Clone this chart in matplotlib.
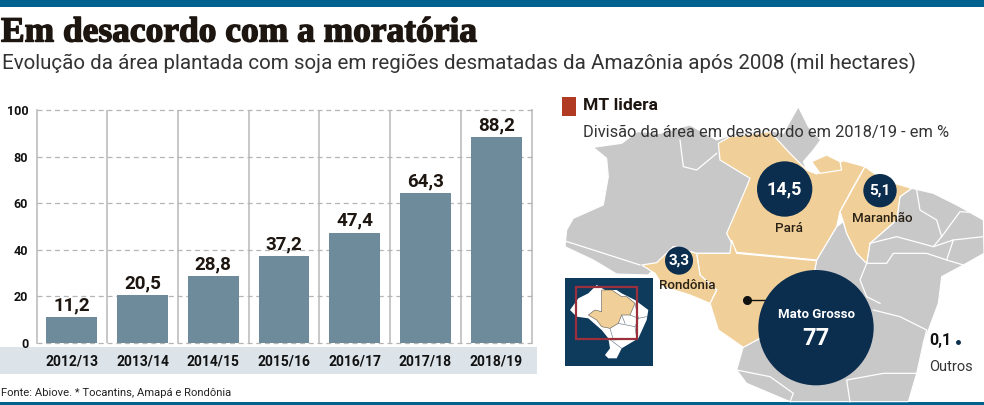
import matplotlib
matplotlib.use('Agg')
import matplotlib.pyplot as plt
import matplotlib.patheffects as pe
import numpy as np
from matplotlib.patches import Polygon, Circle, Rectangle

W, H = 984, 405

# bar chart data
safras = ['2012/13', '2013/14', '2014/15', '2015/16', '2016/17', '2017/18', '2018/19']
area = [11.2, 20.5, 28.8, 37.2, 47.4, 64.3, 88.2]
area_labels = ['11,2', '20,5', '28,8', '37,2', '47,4', '64,3', '88,2']
y_ticks = [0, 20, 40, 60, 80, 100]

# map bubbles
estados = ['Pará', 'Maranhão', 'Rondônia', 'Mato Grosso']
shares = ['14,5', '5,1', '3,3', '77']
bubble_xy = [(704, 297), (990, 302), (387, 512), (798, 713)]
bubble_r = [83, 50, 42, 173]

# map outlines, traced in 3x crop coordinates
gray_north = [(130, 172), (215, 160), (262, 125), (330, 130), (420, 105), (500, 150), (560, 130),
              (660, 122), (700, 130), (745, 50), (775, 110), (812, 150), (790, 180), (760, 215),
              (770, 240), (700, 480), (560, 490), (440, 490),
              (370, 470), (320, 525), (295, 555), (200, 552), (130, 510), (45, 470), (50, 420),
              (70, 385), (160, 345), (175, 260), (170, 205)]
gray_east = [(800, 510), (860, 410), (880, 395), (890, 430), (920, 490), (950, 520), (960, 460),
             (1040, 390), (1050, 320), (1085, 295), (1150, 310), (1220, 345), (1300, 390),
             (1302, 490), (1240, 525), (1175, 560), (1165, 640), (1120, 760), (1100, 850),
             (1075, 935), (720, 935), (590, 880), (560, 840), (580, 770), (630, 745), (790, 560)]
para = [(505, 160), (540, 140), (660, 125), (720, 190), (770, 240), (800, 252), (880, 212),
        (945, 230), (905, 300), (870, 365), (860, 410), (830, 460), (800, 510), (560, 487),
        (535, 440), (530, 430), (590, 290), (600, 265), (510, 210)]
marajo = [(785, 215), (830, 195), (870, 215), (875, 240), (810, 250)]
maranhao = [(945, 230), (1000, 270), (1085, 295), (1050, 320), (1040, 390), (960, 460), (950, 520),
            (920, 490), (890, 430), (880, 395), (870, 365)]
mato_grosso = [(440, 490), (540, 490), (545, 450), (560, 490), (800, 512), (790, 560), (700, 650),
               (630, 745), (580, 772), (505, 720), (480, 640), (500, 600), (450, 555)]
rondonia = [(275, 525), (320, 518), (370, 470), (440, 490), (450, 555), (500, 600), (480, 640),
            (420, 615), (340, 590), (315, 550)]
borders = [[(45, 453), (130, 480), (270, 525)],
           [(390, 150), (400, 230), (440, 240), (500, 190)],
           [(1100, 300), (1110, 360), (1160, 390), (1175, 440), (1150, 470), (1040, 440), (960, 460)],
           [(1175, 440), (1230, 365), (1300, 370)],
           [(1150, 470), (1210, 450), (1300, 440)],
           [(1210, 450), (1190, 510), (1240, 525)],
           [(950, 520), (1010, 520), (1030, 490), (1130, 490), (1190, 510)],
           [(950, 520), (930, 570), (950, 620), (990, 640)],
           [(970, 660), (1050, 680), (1130, 720), (1120, 760)],
           [(1100, 850), (1000, 850), (890, 870), (900, 935)],
           [(560, 840), (660, 860), (730, 910), (720, 935)]]

# inset outlines, traced in the crop of the inset
inset_brasil = [(45, 150), (70, 115), (100, 100), (125, 75), (150, 90), (185, 90), (200, 100),
                (240, 120), (280, 150), (275, 180), (250, 235), (200, 265), (185, 295), (160, 295),
                (150, 285), (165, 265), (160, 235), (140, 210), (100, 175), (65, 170)]
inset_tan = [(140, 90), (170, 90), (200, 110), (215, 110), (240, 130), (225, 165), (200, 165),
             (190, 190), (165, 205), (140, 200), (125, 180), (100, 165), (120, 150), (140, 155)]
inset_lines = [[(225, 165), (250, 175), (275, 170)], [(240, 130), (250, 175), (240, 200)],
               [(190, 190), (240, 200), (245, 235)], [(165, 205), (175, 240), (245, 235)],
               [(160, 235), (200, 265)], [(200, 165), (210, 190)]]


def crop1(pts):
    return [(550 + x / 3, 90 + y / 3) for x, y in pts]


def crop4(pts):
    return [(555 + x / 3, 260 + y / 3) for x, y in pts]


NAVY = '#0b2d4e'
TAN = '#f1cf98'
GRAY = '#c8c8c8'
INK = '#1d1510'
SANS = ['Roboto', 'DejaVu Sans']

fig = plt.figure(figsize=(W / 100, H / 100), dpi=100, facecolor='white')

# whole-figure axes in pixels, for the frame and the map
bg = fig.add_axes([0, 0, 1, 1])
bg.set_xlim(0, W)
bg.set_ylim(H, 0)
bg.axis('off')

bg.add_patch(Rectangle((0, 0), W, 7, color='#02628f', lw=0))
bg.add_patch(Rectangle((0, 402), W, 3, color='#02628f', lw=0))
bg.add_patch(Rectangle((0, 347), 537, 27, color='#dce4ea', lw=0))

title = bg.text(1, 33, 'Em desacordo com a moratória', family='Liberation Serif', weight='bold',
                fontsize=25.5, color=INK, va='center', ha='left')
title.set_path_effects([pe.withStroke(linewidth=1.0, foreground=INK)])
bg.text(2, 63, 'Evolução da área plantada com soja em regiões desmatadas da Amazônia após 2008 (mil hectares)',
        family=SANS, fontsize=14.8, color='#333333', va='center', ha='left')
bg.text(1, 393, 'Fonte: Abiove. * Tocantins, Amapá e Rondônia', family=SANS, fontsize=8.1,
        color='#222222', va='center', ha='left')

# map
for shape in [gray_north, gray_east]:
    bg.add_patch(Polygon(crop1(shape), facecolor=GRAY, edgecolor='white', lw=0.8, zorder=1))
for shape in [para, marajo, maranhao, mato_grosso, rondonia]:
    bg.add_patch(Polygon(crop1(shape), facecolor=TAN, edgecolor='white', lw=0.9, zorder=2))
for line in borders:
    xy = np.array(crop1(line))
    bg.plot(xy[:, 0], xy[:, 1], color='white', lw=0.9, zorder=2)

bg.add_patch(Rectangle((562, 97), 14, 19, color='#b03a22', lw=0, zorder=4))
bg.text(583, 106, 'MT lidera', family=SANS, weight='bold', fontsize=12.6, color=INK,
        va='center', zorder=5)
bg.text(583, 132, 'Divisão da área em desacordo em 2018/19 - em %', family=SANS, fontsize=11.8,
        color='#333333', va='center', zorder=5)

for xy, r in zip(bubble_xy, bubble_r):
    cx, cy = crop1([xy])[0]
    bg.add_patch(Circle((cx, cy), r / 3, color=NAVY, lw=0, zorder=5))

bubble_fs = [13, 11, 11]
for i in range(3):
    cx, cy = crop1([bubble_xy[i]])[0]
    bg.text(cx, cy, shares[i], family=SANS, weight='bold', fontsize=bubble_fs[i], color='white',
            ha='center', va='center', zorder=6)
cx, cy = crop1([bubble_xy[3]])[0]
bg.text(cx, cy - 13, estados[3], family=SANS, weight='bold', fontsize=9.5, color='white',
        ha='center', va='center', zorder=6)
bg.text(cx, cy + 11, shares[3], family=SANS, weight='bold', fontsize=17, color='white',
        ha='center', va='center', zorder=6)

label_xy = [(717, 414), (996, 384), (413, 586)]
for i in range(3):
    lx, ly = crop1([label_xy[i]])[0]
    bg.text(lx, ly, estados[i], family=SANS, weight='medium', fontsize=9.6, color='#2a2115',
            ha='center', va='center', zorder=6)

# leader line for Mato Grosso
bg.plot([747, 772], [300, 300], color='#111111', lw=1, zorder=4)
bg.plot([747], [300], 'o', color='#111111', ms=5.5, zorder=4)

bg.text(929, 341, '0,1', family=SANS, weight='bold', fontsize=11.5, color='#111111', va='center', zorder=6)
bg.plot([958], [342], 'o', color=NAVY, ms=2.5, zorder=6)
bg.text(929, 367, 'Outros', family=SANS, fontsize=10.5, color='#333333', va='center', zorder=6)

# inset locator
bg.add_patch(Rectangle((565, 278), 88, 88, color='#0e3a5c', lw=0, zorder=7))
bg.add_patch(Polygon(crop4(inset_brasil), facecolor='white', edgecolor='none', zorder=8))
bg.add_patch(Polygon(crop4(inset_tan), facecolor=TAN, edgecolor='#555555', lw=0.4, zorder=9))
for line in inset_lines:
    xy = np.array(crop4(line))
    bg.plot(xy[:, 0], xy[:, 1], color='#7a8794', lw=0.5, zorder=9)
bg.add_patch(Rectangle((576, 287), 61, 52, fill=False, edgecolor='#9c2f3c', lw=1.6, zorder=10))

# bars, placed so that 0 and 100 fall on the reference gridlines
left, right, top, bottom = 36.5, 531.5, 110, 343
ax = fig.add_axes([left / W, 1 - bottom / H, (right - left) / W, (bottom - top) / H])
ax.patch.set_alpha(0)
x = np.arange(len(safras))
ax.bar(x, area, width=0.72, color='#6d8b9b', zorder=3)
ax.set_xlim(-0.5, len(safras) - 0.5)
ax.set_ylim(0, 100)
for s in ax.spines.values():
    s.set_visible(False)

ax.set_yticks(y_ticks)
ax.set_yticklabels(y_ticks, family=SANS, weight='bold', fontsize=9, color='#111111')
ax.set_xticks(x)
ax.set_xticklabels(safras, family=SANS, weight='bold', fontsize=10, color='#111111')
ax.set_xticks(x[:-1] + 0.5, minor=True)
ax.tick_params(axis='both', which='both', length=0)
ax.tick_params(axis='y', pad=6)
ax.tick_params(axis='x', pad=8)
ax.grid(axis='y', color='#b5b5b5', linestyle=(0, (4, 3)), lw=0.9, zorder=1, clip_on=False)
ax.grid(axis='x', which='minor', color='#bdbdbd', lw=1.2, zorder=1)
ax.grid(axis='x', which='major', visible=False)
ax.axvline(-0.5, color='#bdbdbd', lw=1.2, zorder=1, clip_on=False)
ax.axvline(len(safras) - 0.5, color='#bdbdbd', lw=1.2, zorder=1, clip_on=False)

for xi, v, lab in zip(x, area, area_labels):
    ax.annotate(lab, (xi, v), xytext=(0, 2), textcoords='offset points', ha='center', va='bottom',
                family=SANS, weight='bold', fontsize=13.5, color=INK, zorder=4)

fig.savefig('out.png', dpi=100)
